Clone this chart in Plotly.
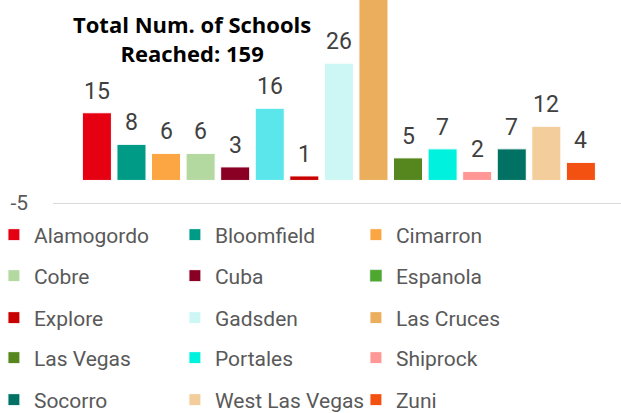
import plotly.graph_objects as go

schools = ["Alamogordo", "Bloomfield", "Cimarron", "Cobre", "Cuba", "Espanola", "Explore",
           "Gadsden", "Las Cruces", "Las Vegas", "Portales", "Shiprock", "Socorro",
           "West Las Vegas", "Zuni"]
num_schools = [15, 8, 6, 6, 3, 16, 1, 26, 41, 5, 7, 2, 7, 12, 4]
total_reached = 159

bar_colors = ["#e50012", "#009b87", "#fba643", "#b3d9a0", "#8a0024", "#5be6ec", "#c90000",
              "#cdf7f4", "#ebae5c", "#56861e", "#00f2de", "#ff9797", "#007163",
              "#f3cd9b", "#f25112"]
# the legend swatch for Espanola is green in the original even though its bar is cyan
legend_colors = list(bar_colors)
legend_colors[5] = "#4ea72e"

y_max = 40
font_name = "Roboto"

fig = go.Figure()
for i, (name, val, bc, lc) in enumerate(zip(schools, num_schools, bar_colors, legend_colors)):
    leg = "legend" if i < 3 else "legend%d" % (i // 3 + 1)
    if bc == lc:
        fig.add_trace(go.Bar(x=[name], y=[val], name=name, legend=leg,
                             marker=dict(color=bc, line=dict(color="white", width=1))))
    else:
        fig.add_trace(go.Bar(x=[name], y=[None], name=name, legend=leg, marker=dict(color=lc)))
        fig.add_trace(go.Bar(x=[name], y=[val], name=name, showlegend=False,
                             marker=dict(color=bc, line=dict(color="white", width=1))))

for name, val in zip(schools, num_schools):
    fig.add_annotation(x=name, y=val, text=str(val), showarrow=False, yanchor="bottom", yshift=6,
                       visible=val < y_max,
                       font=dict(family=font_name, size=23, color="#404040"))

fig.add_annotation(xref="paper", yref="paper", x=0.245, xanchor="center", y=0.966, yanchor="top",
                   showarrow=False, align="center",
                   text="<b>Total Num. of Schools<br>Reached: %d</b>" % total_reached,
                   font=dict(family="Open Sans", size=22, color="black"))

plot_h = 203
row_y = [235, 276, 318, 358, 400]
legend_style = dict(orientation="h", x=-0.104, xanchor="left", yanchor="middle",
                    entrywidth=136, entrywidthmode="pixels", itemwidth=30, traceorder="normal",
                    bgcolor="rgba(0,0,0,0)",
                    font=dict(family=font_name, size=21, color="#595959"))
legends = {}
for r, yp in enumerate(row_y):
    key = "legend" if r == 0 else "legend%d" % (r + 1)
    legends[key] = dict(legend_style, y=(plot_h - yp) / plot_h)

fig.update_layout(
    width=621, height=413,
    barmode="overlay", bargap=0.16,
    margin=dict(l=53, r=0, t=0, b=210, autoexpand=False),
    plot_bgcolor="white", paper_bgcolor="white",
    font=dict(family=font_name, color="#595959"),
    showlegend=True,
    **legends
)
fig.update_xaxes(range=[-1.27, 15.16], showticklabels=False, showgrid=False, zeroline=False,
                 showline=True, linecolor="#d9d9d9", linewidth=1)
fig.update_yaxes(range=[-5, y_max], tickvals=[-5], ticktext=["-5"], showgrid=False,
                 zeroline=False, ticklabelstandoff=24,
                 tickfont=dict(family=font_name, size=21, color="#595959"))

# drop the browser's default 8px page margin so the figure sits at the window corner
fig.write_html("out.html", config={"displayModeBar": False},
               post_script="document.body.style.margin='0';")
